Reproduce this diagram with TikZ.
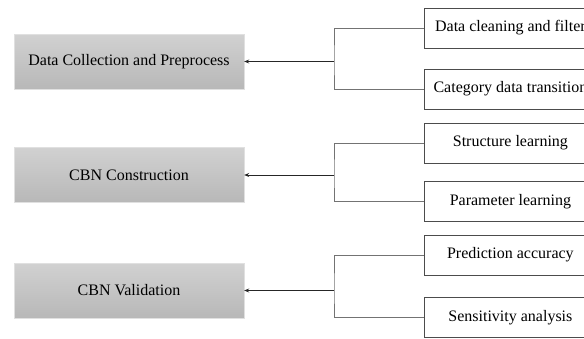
\documentclass[tikz,border=0pt]{standalone}
\usepackage{fontspec}
\setmainfont{Liberation Serif}
\usetikzlibrary{arrows.meta}
\begin{document}
\begin{tikzpicture}[x=1pt,y=-1pt,
		stage/.style={top color=black!18,bottom color=black!28,draw=black!12,minimum width=230pt,minimum height=55pt,font=\fontsize{16}{19}\selectfont},
		task/.style={draw=black!70,fill=white,line width=0.8pt,anchor=west,minimum width=172pt,minimum height=40pt,inner xsep=8pt,font=\fontsize{16}{19}\selectfont},
		branch/.style={draw=black!55,line width=0.8pt},
		feed/.style={draw=black!85,line width=0.8pt,-{Stealth[length=5pt,width=4pt]}}]
			\useasboundingbox (0,0) rectangle (584,338);
			\clip (0,0) rectangle (584,338);
			\node[stage] (l1) at (129,61.5) {Data Collection and Preprocess};
			\node[stage] (l2) at (129,175) {CBN Construction};
			\node[stage] (l3) at (129,290.5) {CBN Validation};
			\node[task] (r1) at (424,28) {Data cleaning and filter};
			\node[task] (r2) at (424,89) {Category data transition};
			\node[task] (r3) at (424,143) {Structure learning};
			\node[task] (r4) at (424,201.5) {Parameter learning};
			\node[task] (r5) at (424,255) {Prediction accuracy};
			\node[task] (r6) at (424,317.5) {Sensitivity analysis};
			\coordinate (j1) at (334,61.5);
			\coordinate (j2) at (334,175);
			\coordinate (j3) at (334,290.5);
			\draw[branch] (r1.west) -| (j1) |- (r2.west);
			\draw[branch] (r3.west) -| (j2) |- (r4.west);
			\draw[branch] (r5.west) -| (j3) |- (r6.west);
			\draw[feed] (j1) to (l1.east);
			\draw[feed] (j2) to (l2.east);
			\draw[feed] (j3) to (l3.east);
		\end{tikzpicture}
\end{document}
